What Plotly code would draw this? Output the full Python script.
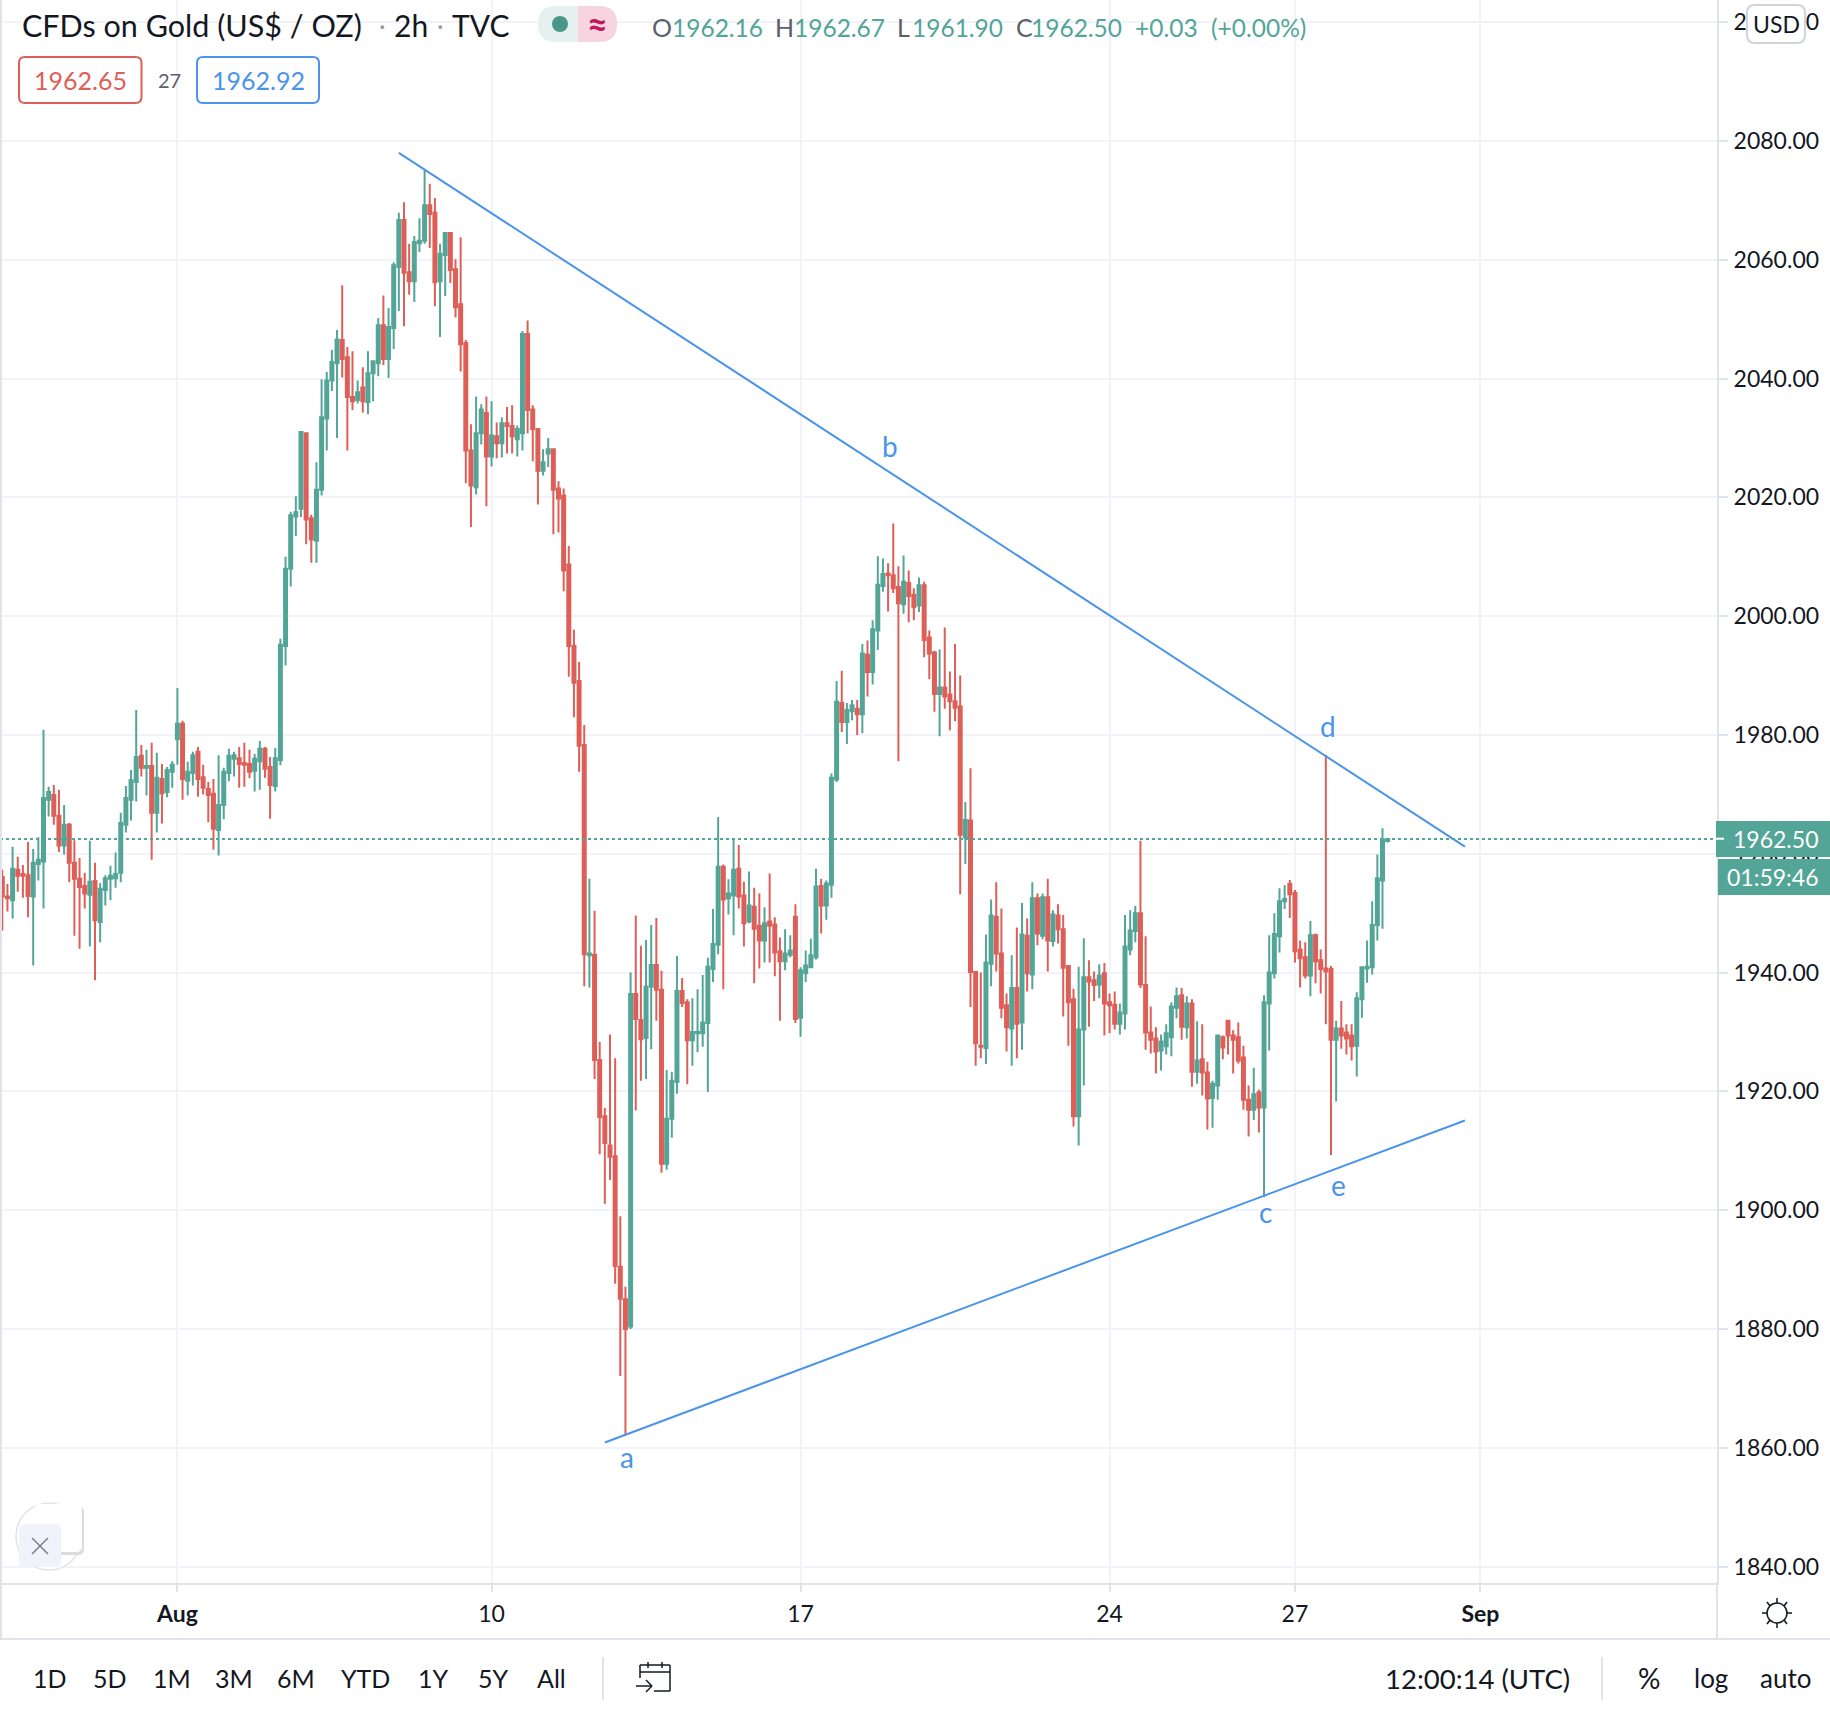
import plotly.graph_objects as go

W, H = 1830, 1710

opens = [
 1956.1,1952.8,1952.2,1957.3,1956.6,1956.4,1952.8,1958.3,1958.7,1969.1,
 1969.9,1966.4,1961.4,1964.9,1958.5,1955.8,1954.6,1953.1,1955.4,1948.5,
 1953.9,1955.8,1955.9,1956.8,1964.9,1969.1,1972.1,1976.5,1974.5,1974.8,
 1966.9,1972.6,1970.4,1973.8,1979.3,1981.9,1972.3,1973.6,1977.2,1972.9,
 1970.9,1970.1,1964,1968.2,1973.6,1976,1976.1,1975.3,1975.1,1974,
 1975.6,1977.7,1974.6,1971.4,1975.8,1995,2008,2016.8,2018.1,2030.8,
 2016.5,2012.7,2021.3,2033.3,2039.7,2042.6,2046.5,2043.6,2036.9,2036.4,
 2038.5,2036,2040.9,2042.6,2049,2043.3,2048.5,2058.8,2066.7,2057.9,
 2056.4,2062.8,2063.2,2069.2,2067.9,2056.4,2060.8,2064.5,2058.4,2052.5,
 2046,2027.9,2021.7,2030.8,2034.2,2026.9,2030.3,2029.1,2032.5,2032,
 2029.8,2030.8,2047.5,2034.8,2031.5,2024.5,2027.4,2028.1,2021.5,2020.3,
 2008.7,1995,1989.1,1978.3,1942.9,1943,1925.3,1915.8,1910.9,1909.1,
 1890.5,1885,1880.4,1936.4,1932,1929,1937.6,1941.3,1937.1,1907.8,
 1915.4,1921.6,1936.9,1935,1928.6,1929.8,1929.8,1931.5,1940.6,1944.7,
 1957.8,1952.5,1953,1957.5,1953,1948.6,1951.1,1947.9,1945.4,1948.6,
 1948.1,1943.6,1941.9,1943,1949.4,1932.4,1939.9,1940.9,1942.6,1954.6,
 1951.3,1954.8,1972.5,1985.4,1982.2,1984,1984.4,1983.5,1993.5,1990.6,
 1997.6,2005.1,2007.2,2006.9,2004.9,2002,2005.6,2003.6,2001.8,2005.2,
 1996.4,1993.9,1986.9,1988,1986.8,1985.7,1984.8,1962.8,1965.6,1940.1,
 1927.7,1927.3,1941.5,1949.4,1943.2,1934.5,1930.6,1937.4,1931.6,1946.2,
 1939.7,1952.5,1946.2,1952.7,1945.3,1949.6,1947.3,1941.1,1935.5,1915.8,
 1930.4,1939.2,1938.7,1938,1939.9,1935,1934.6,1931.4,1933.1,1943.9,
 1947,1950,1937.9,1929.9,1928.9,1926.9,1927.6,1929.1,1934.1,1936.2,
 1930.8,1934.8,1923.3,1925.4,1923.2,1918.9,1921,1929.1,1931.9,1929.4,
 1929.1,1925.7,1918.6,1916.9,1919.8,1917.3,1934.8,1939.9,1946.1,1952,
 1954.9,1953.4,1943.9,1942.6,1939.5,1946.3,1942.1,1940.7,1940.6,1928.7,
 1930.6,1929.9,1929.4,1927.7,1935.5,1940.7,1940.9,1948,1955.5,1962.16,
]
highs = [
 1957.3,1954.9,1961.2,1959.5,1958.1,1962,1960.8,1962.8,1980.9,1971.3,
 1971.6,1970.8,1968.2,1965.2,1962.3,1959.3,1956.8,1962.2,1958.5,1955.1,
 1956.4,1958,1960.2,1966.9,1971.4,1974.1,1984.2,1978.3,1977.5,1978.7,
 1977,1975.1,1974.6,1975.6,1987.9,1982.4,1975.5,1977.2,1978,1975,
 1972.1,1972.6,1976.6,1974.5,1977.7,1977.2,1978,1978.7,1977.5,1976.8,
 1979,1978,1976.3,1977.8,1996.2,2010,2017.6,2020.2,2031,2030.9,
 2017.1,2025.9,2039.9,2041.1,2044.8,2048.2,2055.7,2045.3,2044.6,2039.7,
 2041.9,2044.6,2043.1,2050.2,2054,2051.9,2059.6,2067.9,2069.7,2062.7,
 2064,2067,2075.1,2072.8,2070.4,2062.7,2064.7,2064.7,2060.1,2063.8,
 2046.5,2032.3,2037,2035.7,2037,2036.2,2032.6,2033.5,2035.2,2035.5,
 2032.1,2048,2049.8,2035.5,2031.5,2028.1,2030,2028.1,2022.7,2021.5,
 2011.8,1997.7,1992.3,1981.7,1955.8,1950.4,1928.3,1917.2,1929.6,1925.6,
 1899,1887.1,1940,1949.6,1944.5,1945.5,1948,1949.2,1940.3,1923.6,
 1923.3,1942.8,1939.1,1935.5,1935.7,1937.2,1939.6,1942.5,1950.7,1966.2,
 1958.2,1955.7,1962.4,1961.5,1955.3,1957,1954.3,1953.3,1951,1956.7,
 1949.3,1945.9,1947.3,1946.3,1951.5,1940.9,1943.7,1945.7,1957.5,1955.8,
 1955.5,1973.5,1989.1,1990.8,1985.4,1985.9,1985.9,1995.3,1995.9,1999.3,
 2010.1,2009.7,2008.9,2015.6,2008.4,2010.2,2007.7,2004.7,2006.5,2005.8,
 1997.6,1994.2,1994.4,1998.1,1990.7,1995.3,1990,1968.7,1974.4,1940.2,
 1940,1946.4,1952.3,1955.2,1950.8,1936.5,1942.9,1947.6,1951.7,1949.1,
 1955.2,1953.3,1953.3,1955.8,1950.5,1951.5,1949.7,1941.2,1937.3,1941,
 1945.8,1942.1,1940.2,1941.4,1941.6,1936.5,1936.8,1934.8,1949.7,1950.5,
 1951.2,1962.2,1946.1,1934.3,1930.8,1929.6,1931.3,1935,1937.5,1937.4,
 1936,1935.5,1931.8,1931.3,1925,1921.8,1929.4,1929.4,1931.9,1930.3,
 1931.6,1927.7,1921,1924,1920.3,1936.2,1946.3,1950,1954.2,1954.7,
 1955.6,1953.9,1945.4,1945.1,1948.7,1946.6,1943.9,1976.6,1941.1,1931.9,
 1935.2,1931.3,1931.3,1936.7,1941,1945.4,1952,1959.9,1964.3,1962.67,
]
lows = [
 1947.1,1950.3,1949.1,1953.6,1952.6,1949.3,1941.2,1955.5,1950.8,1966.3,
 1964.9,1960.3,1959.9,1955.2,1946.2,1944,1950.8,1944.4,1938.7,1945.1,
 1951.3,1952.2,1954.3,1955.2,1963.6,1965.6,1968.8,1973,1969.8,1959,
 1963.6,1965.1,1969.5,1971.1,1975,1969.1,1969.8,1971.5,1969.6,1970,
 1965.3,1960.7,1959.7,1965.8,1972.2,1973,1971.1,1971.3,1972.7,1970.5,
 1970.8,1972.8,1965.9,1970.5,1974.9,1991.7,2005,2013.5,2016.7,2012.1,
 2009,2009,2020.3,2027.9,2037.9,2030,2040.2,2027.9,2034.7,2035.8,
 2034.3,2034,2036.2,2040.4,2042.3,2040.1,2045,2051.4,2048.8,2054.1,
 2052.9,2061.3,2062.7,2062,2052.2,2047,2053.9,2056.1,2050.3,2041.2,
 2022.4,2015,2020.5,2028.9,2018.5,2025.2,2026.6,2026.7,2027.4,2027.4,
 2026.9,2027.9,2030.8,2026.1,2018.8,2023.7,2025.1,2013.8,2014.1,2004.2,
 1989.8,1983,1973.8,1937.7,1937.5,1922.1,1909.4,1901.1,1905.1,1887.6,
 1872.1,1862.2,1880,1916.8,1921.8,1922.1,1927.1,1931.9,1906.3,1906.8,
 1912.2,1919.6,1934.2,1921.2,1924.3,1926.6,1927.5,1919.9,1938.4,1943.1,
 1937.2,1949.8,1946.3,1950.8,1944.4,1948.3,1938.2,1940.7,1941.7,1941.7,
 1939.4,1931.9,1940.4,1942.6,1931.5,1929.2,1938.4,1940.9,1942.2,1946.6,
 1948.9,1952.6,1972.1,1980.5,1978.5,1982.5,1980,1980.3,1986.5,1988.5,
 1994.3,2004.1,2000.8,2003.9,1975.6,2000.4,1999,1999.3,2000.7,1993.1,
 1989.4,1983.9,1979.8,1984.4,1980.8,1982.3,1953.2,1958.3,1934.2,1924.3,
 1925.6,1924.6,1937.7,1940.2,1932.3,1926.7,1924.3,1925.6,1927,1936.8,
 1937.2,1944.6,1945.6,1940.2,1944.4,1944.9,1932.6,1927.7,1914.1,1910.9,
 1921,1930.9,1935.2,1935.7,1929.4,1929.8,1930.4,1929.6,1930.4,1942.9,
 1945.1,1937.4,1927,1926.4,1923,1923.5,1926.2,1925.9,1932.3,1928.7,
 1928.9,1920.8,1921.3,1919.3,1913.6,1913.9,1918.6,1925.4,1926.2,1923,
 1924.7,1916.9,1912.4,1915.2,1913.1,1902.2,1926.9,1939,1943.4,1950.7,
 1949.2,1941.7,1937.5,1939,1936,1938.2,1936.5,1931.3,1909.3,1918.3,
 1927.2,1926.2,1925.2,1922.5,1932.4,1938.3,1939.7,1945.4,1947.4,1961.9,
]
closes = [
 1952.8,1952.5,1957.5,1956.3,1956.3,1952.9,1958.5,1959,1969.4,1970.4,
 1966.4,1961.4,1964.9,1958.5,1955.8,1954.4,1953.3,1955.3,1948.8,1954.1,
 1955.9,1956.3,1956.6,1965.2,1969.4,1972.4,1976.3,1974.5,1974.8,1966.9,
 1972.8,1970.2,1974.1,1975,1981.9,1972.6,1973.8,1976.6,1972.6,1971.1,
 1969.9,1964.2,1968.2,1973.8,1976.5,1976.6,1975.1,1975,1973.8,1976,
 1977.7,1974.3,1971.6,1976.1,1995.2,2008,2017,2017.5,2031,2016.3,
 2012.9,2021.3,2033.5,2039.7,2042.8,2046.6,2043.3,2036.9,2036.2,2037.7,
 2036.2,2040.9,2042.9,2049,2043.3,2048.7,2059.1,2066.7,2057.8,2056.4,
 2063,2063.2,2069.2,2067.7,2056.2,2061,2064.5,2058.3,2052,2045.8,
 2027.9,2022,2030.8,2034.8,2026.9,2030.4,2029.1,2032.5,2032,2030.3,
 2031.5,2047.5,2034.7,2031.5,2024.5,2025.9,2028.1,2021.3,2019.8,2007.7,
 1995,1988.8,1978.2,1943.1,1943.2,1925.3,1915.7,1911.3,1909,1890.6,
 1885.1,1880,1936.4,1932.2,1928.8,1937.6,1941.3,1937.1,1907.8,1915.4,
 1921.8,1936.9,1934.9,1928.6,1930,1930,1931.6,1941,1944.8,1957.8,
 1952.3,1953.3,1957.3,1952.8,1948.3,1951.3,1947.4,1945.4,1948.3,1947.9,
 1943.4,1941.9,1943.2,1943.7,1932.2,1940.4,1941.2,1942.9,1954.5,1951.3,
 1955,1972.8,1985.6,1982.2,1984.2,1985,1983.5,1993.7,1990.6,1997.8,
 2005.3,2007.1,2006.9,2004.7,2002.2,2005.8,2003.4,2001.5,2005.2,1996,
 1993.7,1986.9,1988,1986.5,1985.7,1984.6,1963.2,1965.7,1940.1,1928.1,
 1927.5,1941.7,1949.6,1943.2,1934.1,1930.8,1937.4,1931.4,1946.4,1939.9,
 1952.5,1946.6,1952.7,1945.4,1949.8,1947.3,1940.8,1935,1915.8,1930.4,
 1939.2,1938.5,1937.9,1939.5,1934.8,1934.5,1931.4,1933.3,1944.4,1947.1,
 1950,1938,1929.9,1928.7,1926.7,1928.4,1929.8,1934.3,1936,1930.9,
 1934.8,1923.3,1925.2,1923.2,1918.8,1921.3,1929.4,1927.4,1929.4,1928.7,
 1925.2,1918.6,1916.9,1919.5,1917.3,1935,1940,1946.5,1952,1952.4,
 1953.2,1943.6,1942.4,1939.5,1946.3,1941.9,1940.6,1940.2,1928.7,1930.6,
 1929.4,1928.9,1927.6,1935.7,1940.9,1941,1948,1955.9,1962.4,1962.5,
]
candle_index = list(range(len(opens)))

price_ticks = [1840, 1860, 1880, 1900, 1920, 1940, 1960, 1980, 2000, 2020, 2040, 2060, 2080, 2100]
date_ticks = [34, 95, 155, 215, 251, 287]
date_labels = ["<b>Aug</b>", "10", "17", "24", "27", "<b>Sep</b>"]

trend_upper_x, trend_upper_y = [77, 284], [2078.0, 1961.2]
trend_lower_x, trend_lower_y = [117, 284], [1860.9, 1915.1]
wave_labels = ["a", "b", "c", "d", "e"]
wave_x = [121.3, 172.4, 245.2, 257.4, 259.5]
wave_y = [1858.4, 2028.7, 1899.7, 1981.5, 1904.2]
last_price = 1962.5

GREEN, RED, BLUE = "#53a598", "#dd5f57", "#4a94ea"
GRID, EDGE, INK = "#f1f3f9", "#e0e3eb", "#131722"
FONT = "Lato"

# Pixel layout of the plot window
PX_LEFT, PX_RIGHT, PX_BOTTOM = 2, 1717, 1582.5
def fx(x): return x / W
def fy(y): return 1 - y / H

fig = go.Figure()
fig.add_trace(go.Candlestick(
    x=candle_index, open=opens, high=highs, low=lows, close=closes,
    increasing=dict(line=dict(color=GREEN, width=2), fillcolor=GREEN),
    decreasing=dict(line=dict(color=RED, width=2), fillcolor=RED),
    whiskerwidth=0, showlegend=False, hoverinfo="skip",
))
for xs, ys in ((trend_upper_x, trend_upper_y), (trend_lower_x, trend_lower_y)):
    fig.add_trace(go.Scatter(x=xs, y=ys, mode="lines", line=dict(color=BLUE, width=2),
                             showlegend=False, hoverinfo="skip"))

shapes = []
annotations = []

def text(x, y, s, size=25, color=INK, anchor="left"):
    annotations.append(dict(x=fx(x), y=fy(y), xref="paper", yref="paper", text=s, showarrow=False,
                            xanchor=anchor, yanchor="middle", align=anchor,
                            font=dict(family=FONT, size=size, color=color)))

def rect(x0, y0, x1, y1, fill=None, line=None, lw=1.5):
    shapes.append(dict(type="rect", xref="paper", yref="paper", x0=fx(x0), x1=fx(x1), y0=fy(y0), y1=fy(y1),
                       fillcolor=fill or "rgba(0,0,0,0)", line=dict(color=line or "rgba(0,0,0,0)", width=lw if line else 0),
                       layer="above"))

def seg(x0, y0, x1, y1, color=EDGE, lw=2):
    shapes.append(dict(type="line", xref="paper", yref="paper", x0=fx(x0), x1=fx(x1), y0=fy(y0), y1=fy(y1),
                       line=dict(color=color, width=lw), layer="above"))

def rrect(x0, y0, x1, y1, r, fill="#ffffff", line=None, lw=1.5):
    a0, a1, b0, b1 = fx(x0), fx(x1), fy(y0), fy(y1)
    rx, ry = r / W, r / H
    p = (f"M{a0+rx},{b0} L{a1-rx},{b0} Q{a1},{b0} {a1},{b0-ry} L{a1},{b1+ry} Q{a1},{b1} {a1-rx},{b1} "
         f"L{a0+rx},{b1} Q{a0},{b1} {a0},{b1+ry} L{a0},{b0-ry} Q{a0},{b0} {a0+rx},{b0} Z")
    shapes.append(dict(type="path", xref="paper", yref="paper", path=p, fillcolor=fill,
                       line=dict(color=line or "rgba(0,0,0,0)", width=lw if line else 0), layer="above"))

# last-price dotted line
shapes.append(dict(type="line", xref="paper", yref="y", x0=fx(0), x1=fx(PX_RIGHT), y0=last_price, y1=last_price,
                   line=dict(color=GREEN, width=2, dash="dot"), layer="above"))

# frame lines
seg(1, 0, 1, 1640)
seg(0, 1639, W, 1639)
seg(PX_RIGHT, 1582, PX_RIGHT, 1639)

# wave labels
for s, xv, yv in zip(wave_labels, wave_x, wave_y):
    annotations.append(dict(x=xv, y=yv, xref="x", yref="y", text=s, showarrow=False,
                            font=dict(family=FONT, size=28, color=BLUE)))

# header
text(20, 25, "CFDs on Gold (US$ / OZ)", 30.5)
text(382, 25, "·", 25, "#9598a1", "center")
text(411, 25, "2h", 30, INK, "center")
text(440, 25, "·", 25, "#9598a1", "center")
text(480, 25, "TVC", 30, INK, "center")
rrect(538, 6, 617, 42, 18, fill="#e6f1ef")
rrect(578, 6, 617, 42, 18, fill="#f7d4e0")
rect(578, 6, 592, 42, fill="#f7d4e0")
shapes.append(dict(type="circle", xref="paper", yref="paper", x0=fx(552), x1=fx(568), y0=fy(16), y1=fy(32),
                   fillcolor="#47988a", line=dict(width=0), layer="above"))
text(597, 23, "<b>≈</b>", 36, "#c2185b", "center")

for lab, lx, val, vx in (("O", 650, "1962.16", 670), ("H", 773, "1962.67", 792),
                         ("L", 895, "1961.90", 910), ("C", 1014, "1962.50", 1029)):
    text(lx, 27, lab, 25, "#5d606b")
    text(vx, 27, val, 24.5, GREEN)
text(1133, 27, "+0.03", 24.5, GREEN)
text(1209, 27, "(+0.00%)", 24.5, GREEN)

rrect(19, 57, 141.5, 103, 6, fill="#ffffff", line=RED, lw=2)
text(80, 80.5, "1962.65", 25, RED, "center")
text(169, 80, "27", 20, "#5d606b", "center")
rrect(197, 57, 319, 103, 6, fill="#ffffff", line=BLUE, lw=2)
text(258, 80.5, "1962.92", 25, BLUE, "center")

# USD badge
rrect(1747, 5, 1805, 43, 8, fill="#ffffff", line="#d1d4dc", lw=2)
text(1776, 24, "USD", 23, INK, "center")

# last price / countdown badges
rect(1716, 821, W, 857, fill=GREEN)
rect(1718, 859, W, 895, fill=GREEN)
seg(1716, 838.7, 1724, 838.7, "#ffffff", 2)
text(1775, 838.7, "1962.50", 23, "#ffffff", "center")
text(1773, 877, "01:59:46", 23, "#ffffff", "center")

# bottom toolbar
for s, xv in (("1D", 50), ("5D", 110), ("1M", 172), ("3M", 234), ("6M", 296), ("YTD", 365),
              ("1Y", 433.5), ("5Y", 493), ("All", 551)):
    text(xv, 1678, s, 25, INK, "center")
seg(603, 1657, 603, 1700)
seg(1602, 1657, 1602, 1700)
text(1477, 1678, "12:00:14 (UTC)", 27.5, INK, "center")
text(1649, 1678, "%", 28, INK, "center")
text(1711, 1678, "log", 26, INK, "center")
text(1785, 1678, "auto", 26, INK, "center")

# calendar icon
for a in ((640, 1665, 670, 1665), (640, 1672, 670, 1672), (640, 1665, 640, 1678), (670, 1665, 670, 1691),
          (670, 1691, 654, 1691), (648, 1662, 648, 1668), (662, 1662, 662, 1668),
          (636, 1686, 652, 1686), (646, 1680, 652, 1686), (646, 1692, 652, 1686)):
    seg(*a, color=INK, lw=1.5)

# settings icon
shapes.append(dict(type="circle", xref="paper", yref="paper", x0=fx(1767), x1=fx(1787), y0=fy(1603), y1=fy(1623),
                   line=dict(color=INK, width=1.5), fillcolor="#ffffff", layer="above"))
for a in ((1777, 1598, 1777, 1603), (1777, 1623, 1777, 1628), (1762, 1613, 1767, 1613), (1787, 1613, 1792, 1613),
          (1767, 1602, 1770, 1606), (1787, 1602, 1784, 1606), (1767, 1624, 1770, 1620), (1787, 1624, 1784, 1620)):
    seg(*a, color=INK, lw=1.5)

# floating close widget
shapes.append(dict(type="circle", xref="paper", yref="paper", x0=fx(16), x1=fx(82), y0=fy(1503), y1=fy(1570),
                   fillcolor="#ffffff", line=dict(color="#e3e3e3", width=1.5), layer="above"))
rrect(36, 1506, 84, 1555, 6, fill="#dcdcdc")
rrect(34, 1504, 82, 1552, 6, fill="#ffffff")
rrect(19, 1524, 61, 1567, 5, fill="#f0f3fa")
seg(32, 1538, 48, 1554, "#787b86", 1.5)
seg(48, 1538, 32, 1554, "#787b86", 1.5)

px_per_candle = 5.15
x0_px = 2.3
px_per_unit = 5.94
fig.update_layout(
    width=W, height=H, margin=dict(l=0, r=0, t=0, b=0), autosize=False,
    paper_bgcolor="#ffffff", plot_bgcolor="#ffffff", showlegend=False, boxgap=0.42, boxgroupgap=0,
    shapes=shapes, annotations=annotations, dragmode=False,
    xaxis=dict(domain=[fx(PX_LEFT), fx(PX_RIGHT)],
               range=[(PX_LEFT - x0_px) / px_per_candle, (PX_RIGHT - x0_px) / px_per_candle],
               tickmode="array", tickvals=date_ticks, ticktext=date_labels,
               showgrid=True, gridcolor=GRID, gridwidth=2, zeroline=False,
               showline=True, linecolor=EDGE, linewidth=2,
               ticks="outside", ticklen=7, tickcolor=EDGE, tickwidth=2,
               tickangle=0, ticklabelstandoff=3,
               tickfont=dict(family=FONT, size=23, color=INK),
               rangeslider=dict(visible=False), anchor="y"),
    yaxis=dict(domain=[fy(PX_BOTTOM), 1],
               range=[2080 - (PX_BOTTOM - 141) / px_per_unit, 2080 + 141 / px_per_unit],
               side="right", anchor="x", tickmode="array", tickvals=price_ticks,
               ticktext=[f"{v:.2f}" for v in price_ticks],
               showgrid=True, gridcolor=GRID, gridwidth=2, zeroline=False,
               showline=True, linecolor=EDGE, linewidth=2,
               ticks="outside", ticklen=9, tickcolor=EDGE, tickwidth=2, ticklabelstandoff=1,
               tickfont=dict(family=FONT, size=23, color=INK)),
)

fig.write_html("out.html", post_script="document.body.style.margin='0';document.body.style.overflow='hidden';",
               config=dict(displayModeBar=False))
